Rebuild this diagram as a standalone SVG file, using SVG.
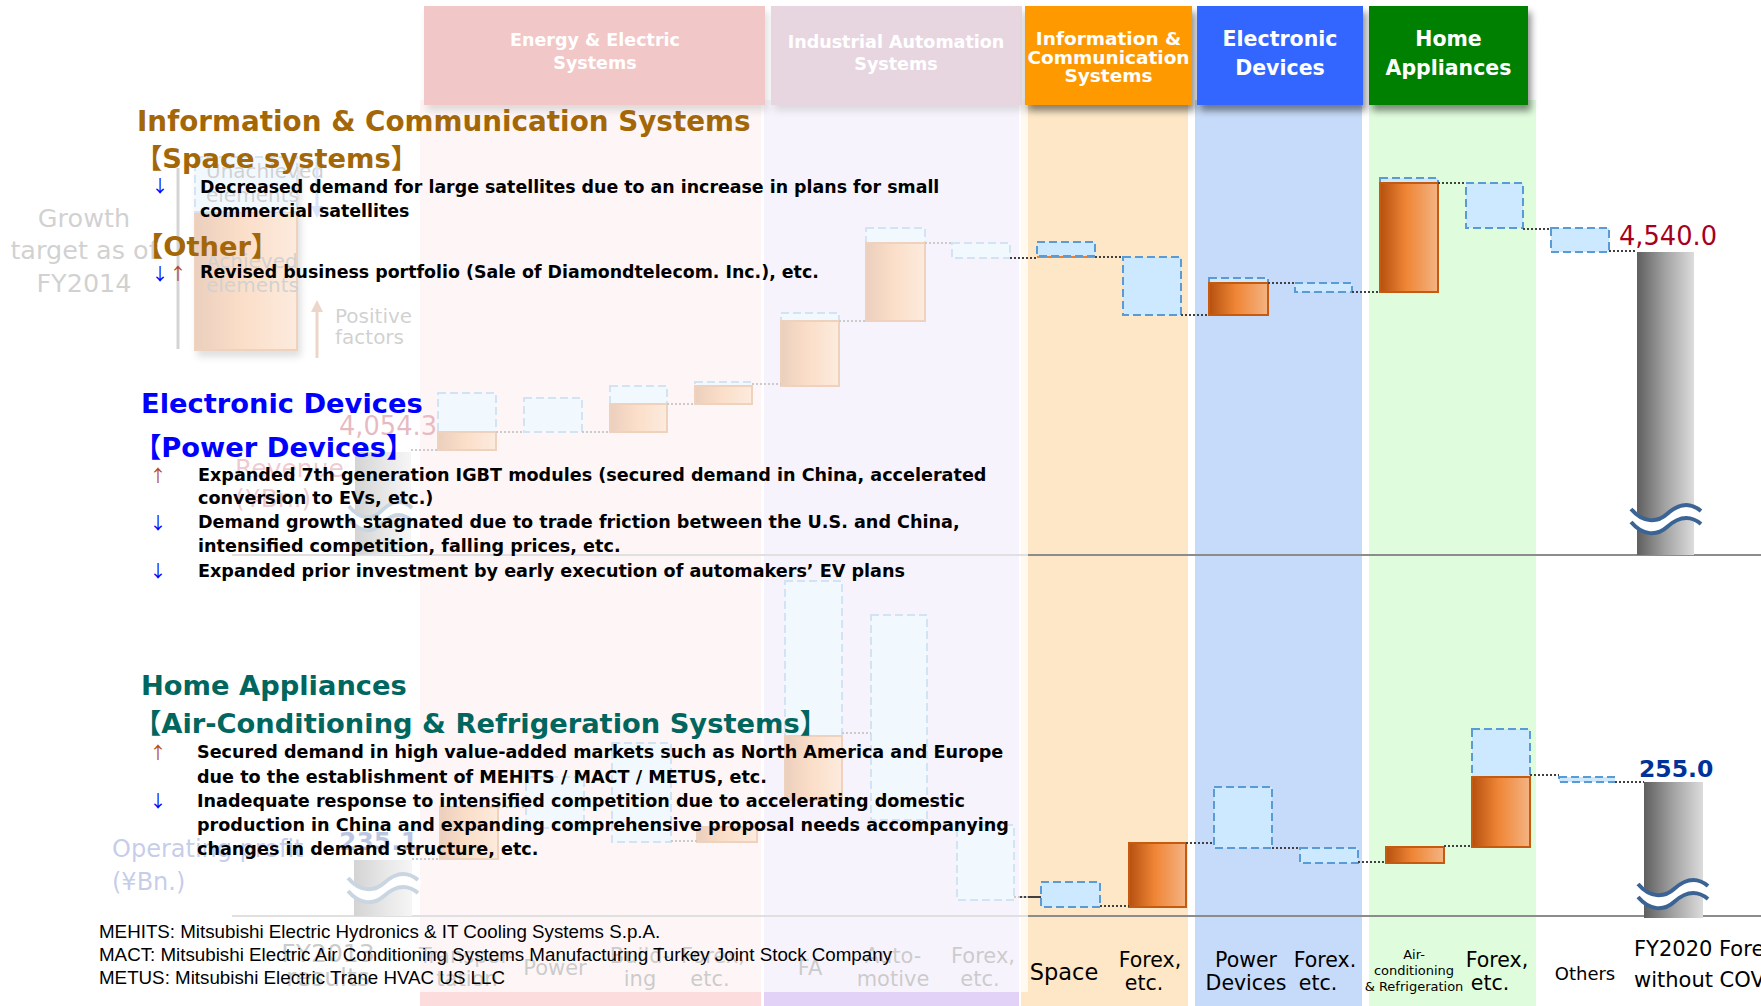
<svg xmlns="http://www.w3.org/2000/svg" width="1761" height="1006" viewBox="0 0 1761 1006">
<defs>
<linearGradient id="og" x1="0" y1="0" x2="1" y2="0"><stop offset="0" stop-color="#b5500f"/><stop offset="0.45" stop-color="#ef8535"/><stop offset="1" stop-color="#f4b483"/></linearGradient>
<linearGradient id="gg" x1="0" y1="0" x2="1" y2="0"><stop offset="0" stop-color="#5f5f5f"/><stop offset="0.5" stop-color="#a3a3a3"/><stop offset="1" stop-color="#dcdcdc"/></linearGradient>
<filter id="sh" x="-10%" y="-10%" width="125%" height="135%"><feDropShadow dx="3" dy="6" stdDeviation="3.5" flood-color="#000" flood-opacity="0.45"/></filter>
<marker id="ah" viewBox="0 0 10 10" refX="5" refY="5" markerWidth="4" markerHeight="4" orient="auto"><path d="M0,0 L10,5 L0,10 z" fill="context-stroke"/></marker>
<g id="brk" fill="none">
<path d="M0,2.5 C12,16.5 26,16.5 36,7.5 S58,-5.5 70,4.5" stroke="#fff" stroke-width="13"/>
<path d="M0,-4 C12,10 26,10 36,1 S58,-12 70,-2" stroke="#3b6494" stroke-width="4"/>
<path d="M0,9 C12,23 26,23 36,14 S58,1 70,11" stroke="#3b6494" stroke-width="4"/>
</g>
<style>
.hdrT{font-family:"DejaVu Sans",sans-serif;font-weight:bold;fill:#fff;text-anchor:middle}
.h{font-family:"DejaVu Sans","Noto Sans CJK JP",sans-serif;font-weight:bold;font-size:27.3px}
.ht{font-size:27.8px}
.b{font-family:"DejaVu Sans",sans-serif;font-weight:bold;font-size:17.6px;fill:#000}
.b1{font-size:17.4px}
.ar{font-family:"Noto Sans CJK JP",sans-serif;font-size:17px;text-anchor:middle}
.dn{fill:#0000ff}.up{fill:#b5470f}
.fn{font-family:"Liberation Sans",Arial,sans-serif;font-size:18.75px;fill:#000}
.lbl{font-family:"DejaVu Sans",sans-serif;font-size:20.5px;fill:#000;text-anchor:middle}
.lsp{font-size:22.5px}
.lsm{font-size:13px}
.lot{font-size:18px}
.lfy{font-size:21px;text-anchor:start}
.flbl{font-family:"DejaVu Sans",sans-serif;font-size:21px;fill:#404040;text-anchor:middle}
.fbig{font-size:25px}
.ftx{font-family:"DejaVu Sans",sans-serif;fill:#555}
.ub{fill:#cce9ff;stroke:#5b9bd5;stroke-width:2;stroke-dasharray:8 4}
.ob{fill:url(#og);stroke:#c55a11;stroke-width:2}
.gb{fill:url(#gg)}
.dt{stroke:#404040;stroke-width:2;stroke-dasharray:2 2;fill:none}
.ax{stroke:#8c8c8c;stroke-width:2}
</style>
</defs>
<rect x="0" y="0" width="1761" height="1006" fill="#fff"/>

<!-- columns -->
<g id="columns">
<rect x="420" y="100" width="341" height="906" fill="#fcdcdc"/>
<rect x="764" y="100" width="255" height="906" fill="#e2d2f8"/>
<rect x="1021" y="100" width="167" height="906" fill="#fde7c7"/>
<rect x="1195" y="100" width="167" height="906" fill="#c6dbfa"/>
<rect x="1369" y="100" width="167" height="906" fill="#dffcdc"/>
</g>

<!-- faded headers -->
<g id="hdr-energy">
<rect x="424" y="6" width="341" height="99" fill="#cc3333" filter="url(#sh)"/>
<text class="hdrT" x="595" y="46" font-size="17.5">Energy &amp; Electric</text>
<text class="hdrT" x="595" y="69" font-size="17.5">Systems</text>
</g>
<g id="hdr-industrial">
<rect x="771" y="6" width="251" height="99" fill="#a8688e" filter="url(#sh)"/>
<text class="hdrT" x="896" y="48" font-size="17.5">Industrial Automation</text>
<text class="hdrT" x="896" y="70" font-size="17.5">Systems</text>
</g>

<!-- axes -->
<g id="axes">
<line class="ax" x1="232" y1="555" x2="1761" y2="555"/>
<line class="ax" x1="232" y1="916" x2="1761" y2="916"/>
</g>

<!-- faded legend -->
<g id="legend">
<text class="ftx" font-size="25.5" text-anchor="middle" x="84" y="227">Growth</text>
<text class="ftx" font-size="25.5" text-anchor="middle" x="84" y="259">target as of</text>
<text class="ftx" font-size="25.5" text-anchor="middle" x="84" y="292">FY2014</text>
<line x1="178" y1="168" x2="178" y2="349" stroke="#606060" stroke-width="3"/>
<g filter="url(#sh)">
<rect class="ob" x="195" y="212" width="102" height="138" stroke="none"/>
<rect class="ub" x="195" y="157" width="102" height="55"/>
</g>
<text class="ftx" font-size="20" x="206" y="178">Unachieved</text>
<text class="ftx" font-size="20" x="206" y="202">elements</text>
<text class="ftx" font-size="20" x="206" y="268">Achieved</text>
<text class="ftx" font-size="20" x="206" y="292">elements</text>
<line x1="317" y1="158" x2="317" y2="212" stroke="#6f9ef0" stroke-width="3" marker-end="url(#ah)"/>
<line x1="317" y1="358" x2="317" y2="306" stroke="#b9653a" stroke-width="3" marker-end="url(#ah)"/>
<text class="ftx" font-size="20" x="335" y="323">Positive</text>
<text class="ftx" font-size="20" x="335" y="344">factors</text>
</g>

<!-- faded revenue chart -->
<g id="rev-fy2013">
<rect class="gb" x="355" y="452" width="56" height="103"/>
<use href="#brk" transform="translate(349,510) scale(0.9,1)"/>
<text font-family="DejaVu Sans,sans-serif" font-size="25.7" fill="#a50021" x="339" y="435">4,054.3</text>
<text font-family="DejaVu Sans,sans-serif" font-size="25" fill="#c0405a" x="235" y="477">Revenue</text>
<text font-family="DejaVu Sans,sans-serif" font-size="25" fill="#c0405a" x="235" y="507">(¥Bn.)</text>
</g>
<g id="rev-transport"><rect class="ub" x="438" y="393" width="58" height="39"/><rect class="ob" x="438" y="432" width="58" height="18"/></g>
<g id="rev-power"><rect class="ub" x="524" y="398" width="58" height="34"/></g>
<g id="rev-building"><rect class="ub" x="610" y="386" width="57" height="18"/><rect class="ob" x="610" y="404" width="57" height="28"/></g>
<g id="rev-forex1"><rect class="ub" x="695" y="382" width="57" height="4"/><rect class="ob" x="695" y="386" width="57" height="18"/></g>
<g id="rev-fa"><rect class="ub" x="781" y="313" width="58" height="8"/><rect class="ob" x="781" y="321" width="58" height="65"/></g>
<g id="rev-auto"><rect class="ub" x="866" y="228" width="59" height="15"/><rect class="ob" x="866" y="243" width="59" height="78"/></g>
<g id="rev-forex2"><rect class="ub" x="952" y="243" width="58" height="15"/></g>

<!-- faded operating profit chart -->
<g id="op-fy2013">
<rect class="gb" x="354" y="860" width="58" height="56"/>
<use href="#brk" transform="translate(348,882)"/>
<text font-family="DejaVu Sans,sans-serif" font-weight="bold" font-size="25" fill="#003399" x="339" y="850">235.1</text>
<text font-family="DejaVu Sans,sans-serif" font-size="24" fill="#2a48b0" x="112" y="857">Operating profit</text>
<text font-family="DejaVu Sans,sans-serif" font-size="24" fill="#2a48b0" x="112" y="890">(¥Bn.)</text>
</g>
<g id="op-transport"><rect class="ob" x="440" y="807" width="58" height="52"/></g>
<g id="op-power"><rect class="ub" x="526" y="777" width="58" height="51"/></g>
<g id="op-building"><rect class="ub" x="612" y="743" width="59" height="99"/></g>
<g id="op-forex1"><rect class="ob" x="697" y="827" width="60" height="15"/></g>
<g id="op-fa"><rect class="ub" x="785" y="581" width="57" height="155"/><rect class="ob" x="785" y="736" width="57" height="64"/></g>
<g id="op-auto"><rect class="ub" x="871" y="615" width="56" height="205"/></g>
<g id="op-forex2"><rect class="ub" x="957" y="825" width="57" height="75"/></g>

<g id="faded-labels">
<text class="flbl fbig" x="328" y="962">FY2013</text>
<text class="flbl fbig" x="328" y="986">results</text>
<text class="flbl" x="467" y="963">Transpor-</text>
<text class="flbl" x="467" y="986">tation</text>
<text class="flbl" x="555" y="975">Power</text>
<text class="flbl" x="640" y="963">Build-</text>
<text class="flbl" x="640" y="986">ing</text>
<text class="flbl" x="713" y="963">Forex,</text>
<text class="flbl" x="710" y="986">etc.</text>
<text class="flbl" x="810" y="975">FA</text>
<text class="flbl" x="893" y="963">Auto-</text>
<text class="flbl" x="893" y="986">motive</text>
<text class="flbl" x="983" y="963">Forex,</text>
<text class="flbl" x="980" y="986">etc.</text>
</g>

<g id="faded-connectors">
<line class="dt" x1="411" y1="450" x2="438" y2="450"/>
<line class="dt" x1="496" y1="432" x2="524" y2="432"/>
<line class="dt" x1="582" y1="432" x2="610" y2="432"/>
<line class="dt" x1="667" y1="404" x2="695" y2="404"/>
<line class="dt" x1="752" y1="384" x2="781" y2="384"/>
<line class="dt" x1="839" y1="321" x2="866" y2="321"/>
<line class="dt" x1="925" y1="243" x2="952" y2="243"/>
<line class="dt" x1="412" y1="859" x2="440" y2="859"/>
<line class="dt" x1="498" y1="807" x2="526" y2="807"/>
<line class="dt" x1="671" y1="841" x2="697" y2="841"/>
<line class="dt" x1="842" y1="733" x2="871" y2="733"/>
<line class="dt" x1="1014" y1="897" x2="1041" y2="897"/>
</g>

<!-- white veil over the left part -->
<rect id="veil" x="0" y="0" width="1028" height="992" fill="#fff" fill-opacity="0.73"/>

<!-- active headers -->
<g id="hdr-ics">
<rect x="1025" y="6" width="167" height="99" fill="#ff9900" filter="url(#sh)"/>
<text class="hdrT" x="1108.5" y="44.5" font-size="18.5">Information &amp;</text>
<text class="hdrT" x="1108.5" y="63.5" font-size="18.5">Communication</text>
<text class="hdrT" x="1108.5" y="82" font-size="18.5">Systems</text>
</g>
<g id="hdr-ed">
<rect x="1197" y="6" width="166" height="99" fill="#3366ff" filter="url(#sh)"/>
<text class="hdrT" x="1280" y="45.5" font-size="20.5">Electronic</text>
<text class="hdrT" x="1280" y="75" font-size="20.5">Devices</text>
</g>
<g id="hdr-ha">
<rect x="1369" y="6" width="159" height="99" fill="#008000" filter="url(#sh)"/>
<text class="hdrT" x="1448.5" y="45.5" font-size="20.5">Home</text>
<text class="hdrT" x="1448.5" y="75" font-size="20.5">Appliances</text>
</g>

<!-- revenue chart (right) -->
<g id="rev-space"><rect x="1037" y="255" width="58" height="3" fill="#ed7d31"/><rect class="ub" x="1037" y="242" width="58" height="14"/></g>
<g id="rev-ics-forex"><rect class="ub" x="1123" y="257" width="58" height="58"/></g>
<g id="rev-pd"><rect class="ub" x="1209" y="278" width="59" height="5"/><rect class="ob" x="1209" y="283" width="59" height="32"/></g>
<g id="rev-ed-forex"><rect class="ub" x="1295" y="283" width="57" height="9"/></g>
<g id="rev-acr"><rect class="ub" x="1380" y="178" width="58" height="5"/><rect class="ob" x="1380" y="183" width="58" height="109"/></g>
<g id="rev-ha-forex"><rect class="ub" x="1466" y="183" width="57" height="45"/></g>
<g id="rev-others"><rect class="ub" x="1551" y="228" width="58" height="24"/></g>
<g id="rev-fy2020">
<rect class="gb" x="1637" y="252" width="57" height="303"/>
<use href="#brk" transform="translate(1631,513)"/>
<text font-family="DejaVu Sans,sans-serif" font-size="25.7" fill="#a6001f" x="1619" y="245">4,540.0</text>
</g>

<!-- operating profit chart (right) -->
<g id="op-space"><rect class="ub" x="1041" y="882" width="59" height="25"/></g>
<g id="op-ics-forex"><rect class="ob" x="1129" y="843" width="57" height="64"/></g>
<g id="op-pd"><rect class="ub" x="1214" y="787" width="58" height="61"/></g>
<g id="op-ed-forex"><rect class="ub" x="1300" y="848" width="58" height="15"/></g>
<g id="op-acr"><rect class="ob" x="1386" y="847" width="58" height="16"/></g>
<g id="op-ha-forex"><rect class="ub" x="1472" y="729" width="58" height="48"/><rect class="ob" x="1472" y="777" width="58" height="70"/></g>
<g id="op-others"><rect class="ub" x="1559" y="777" width="56" height="5"/></g>
<g id="op-fy2020">
<rect class="gb" x="1644" y="782" width="59" height="136"/>
<use href="#brk" transform="translate(1638,888)"/>
<text font-family="DejaVu Sans,sans-serif" font-weight="bold" font-size="23.5" fill="#003399" x="1639" y="777">255.0</text>
</g>

<g id="connectors">
<line class="dt" x1="1010" y1="258" x2="1037" y2="258"/>
<line class="dt" x1="1095" y1="257" x2="1123" y2="257"/>
<line class="dt" x1="1181" y1="315" x2="1209" y2="315"/>
<line class="dt" x1="1268" y1="283" x2="1295" y2="283"/>
<line class="dt" x1="1352" y1="292" x2="1380" y2="292"/>
<line class="dt" x1="1438" y1="183" x2="1466" y2="183"/>
<line class="dt" x1="1523" y1="229" x2="1551" y2="229"/>
<line class="dt" x1="1609" y1="251" x2="1637" y2="251"/>
<line class="dt" x1="1020" y1="897" x2="1041" y2="897"/>
<line class="dt" x1="1100" y1="906" x2="1129" y2="906"/>
<line class="dt" x1="1186" y1="843" x2="1214" y2="843"/>
<line class="dt" x1="1272" y1="848" x2="1300" y2="848"/>
<line class="dt" x1="1358" y1="862" x2="1386" y2="862"/>
<line class="dt" x1="1444" y1="846" x2="1472" y2="846"/>
<line class="dt" x1="1530" y1="775" x2="1559" y2="775"/>
<line class="dt" x1="1615" y1="782" x2="1644" y2="782"/>
</g>

<g id="axis-labels">
<text class="lbl lsp" x="1064" y="980">Space</text>
<text class="lbl" x="1150" y="967">Forex,</text>
<text class="lbl" x="1144" y="990">etc.</text>
<text class="lbl" x="1246" y="967">Power</text>
<text class="lbl" x="1246" y="990">Devices</text>
<text class="lbl" x="1325" y="967">Forex.</text>
<text class="lbl" x="1318" y="990">etc.</text>
<text class="lbl lsm" x="1414" y="959">Air-</text>
<text class="lbl lsm" x="1414" y="975">conditioning</text>
<text class="lbl lsm" x="1414" y="991">&amp; Refrigeration</text>
<text class="lbl" x="1497" y="967">Forex,</text>
<text class="lbl" x="1490" y="990">etc.</text>
<text class="lbl lot" x="1585" y="980">Others</text>
<text class="lbl lfy" x="1634" y="956">FY2020 Fore</text>
<text class="lbl lfy" x="1634" y="987">without COV</text>
</g>

<!-- commentary -->
<g id="note-ics">
<text class="h ht" fill="#a36708" x="137" y="131">Information &amp; Communication Systems</text>
<text class="h" fill="#a36708" x="135" y="168">【Space systems】</text>
<text class="ar dn" x="160" y="192">↓</text>
<text class="b b1" x="200" y="193">Decreased demand for large satellites due to an increase in plans for small</text>
<text class="b b1" x="200" y="217">commercial satellites</text>
<text class="h" fill="#a36708" x="136" y="256">【Other】</text>
<text class="ar dn" x="160" y="280">↓</text>
<text class="ar up" x="178" y="280">↑</text>
<text class="b b1" x="200" y="278">Revised business portfolio (Sale of Diamondtelecom. Inc.), etc.</text>
</g>
<g id="note-ed">
<text class="h" fill="#0000ff" x="141" y="413">Electronic Devices</text>
<text class="h" fill="#0000ff" x="134" y="457">【Power Devices】</text>
<text class="ar up" x="158" y="482">↑</text>
<text class="b" x="198" y="481">Expanded 7th generation IGBT modules (secured demand in China, accelerated</text>
<text class="b" x="198" y="504">conversion to EVs, etc.)</text>
<text class="ar dn" x="158" y="529">↓</text>
<text class="b" x="198" y="528">Demand growth stagnated due to trade friction between the U.S. and China,</text>
<text class="b" x="198" y="552">intensified competition, falling prices, etc.</text>
<text class="ar dn" x="158" y="577">↓</text>
<text class="b" x="198" y="577">Expanded prior investment by early execution of automakers’ EV plans</text>
</g>
<g id="note-ha">
<text class="h" fill="#00665e" x="141" y="695">Home Appliances</text>
<text class="h" fill="#00665e" x="134" y="733">【Air-Conditioning &amp; Refrigeration Systems】</text>
<text class="ar up" x="158" y="759">↑</text>
<text class="b" x="197" y="758">Secured demand in high value-added markets such as North America and Europe</text>
<text class="b" x="197" y="783">due to the establishment of MEHITS / MACT / METUS, etc.</text>
<text class="ar dn" x="158" y="807">↓</text>
<text class="b" x="197" y="807">Inadequate response to intensified competition due to accelerating domestic</text>
<text class="b" x="197" y="831">production in China and expanding comprehensive proposal needs accompanying</text>
<text class="b" x="197" y="855">changes in demand structure, etc.</text>
</g>
<g id="footnotes">
<text class="fn" x="99" y="938">MEHITS: Mitsubishi Electric Hydronics &amp; IT Cooling Systems S.p.A.</text>
<text class="fn" x="99" y="961">MACT: Mitsubishi Electric Air Conditioning Systems Manufacturing Turkey Joint Stock Company</text>
<text class="fn" x="99" y="984">METUS: Mitsubishi Electric Trane HVAC US LLC</text>
</g>
</svg>
